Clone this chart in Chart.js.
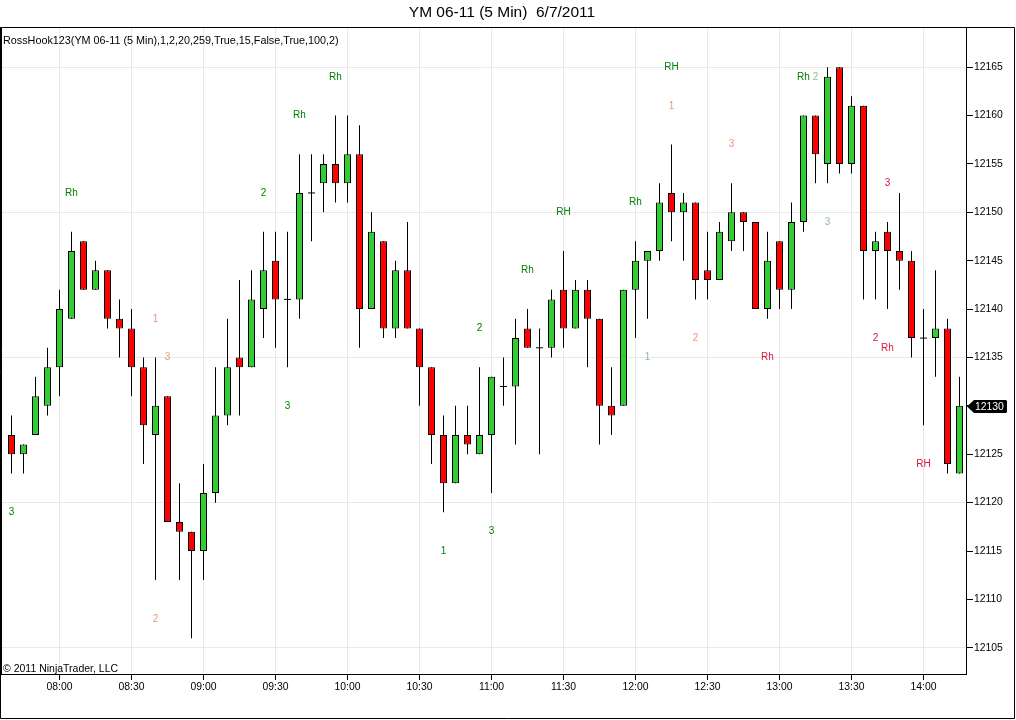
<!DOCTYPE html>
<html>
<head>
<meta charset="utf-8">
<script src="https://cdn.jsdelivr.net/npm/chart.js@4.4.0/dist/chart.umd.min.js"></script>
<style>
html,body{margin:0;padding:0;background:#fff;}
#wrap{position:relative;width:1016px;height:720px;overflow:hidden;font-family:"Liberation Sans",Arial,sans-serif;color:#000;background:#fff;}
#c{position:absolute;left:0;top:0;}
#title{position:absolute;left:0;top:3px;width:1004px;text-align:center;font-size:15.5px;line-height:18px;white-space:pre;}
#ind{position:absolute;left:3px;top:33px;font-size:10.8px;line-height:14px;white-space:pre;}
#copy{position:absolute;left:3px;top:661px;font-size:10.5px;line-height:14px;white-space:pre;}
</style>
</head>
<body>
<div id="wrap">
<canvas id="c" width="1016" height="720"></canvas>
<div id="title">YM 06-11 (5 Min)  6/7/2011</div>
<div id="ind">RossHook123(YM 06-11 (5 Min),1,2,20,259,True,15,False,True,100,2)</div>
<div id="copy">© 2011 NinjaTrader, LLC</div>
</div>
<script>
// ---- data ----
const times = ["07:40","07:45","07:50","07:55",
  "08:00","08:05","08:10","08:15","08:20","08:25","08:30","08:35","08:40","08:45","08:50","08:55",
  "09:00","09:05","09:10","09:15","09:20","09:25","09:30","09:35","09:40","09:45","09:50","09:55",
  "10:00","10:05","10:10","10:15","10:20","10:25","10:30","10:35","10:40","10:45","10:50","10:55",
  "11:00","11:05","11:10","11:15","11:20","11:25","11:30","11:35","11:40","11:45","11:50","11:55",
  "12:00","12:05","12:10","12:15","12:20","12:25","12:30","12:35","12:40","12:45","12:50","12:55",
  "13:00","13:05","13:10","13:15","13:20","13:25","13:30","13:35","13:40","13:45","13:50","13:55",
  "14:00","14:05","14:10","14:15"];
const opens  = [12127,12125,12127,12130,12134,12139,12147,12142,12144,12139,12138,12134,12127,12131,12118,12117,
  12115,12121,12129,12135,12134,12140,12145,12141,12141,12152,12153,12155,12153,12156,12140,12147,
  12138,12144,12138,12134,12127,12122,12127,12125,12127,12132,12132,12138,12136,12136,12142,12138,
  12142,12139,12130,12130,12142,12145,12146,12152,12150,12151,12144,12143,12147,12150,12149,12140,
  12147,12142,12149,12160,12155,12165,12155,12161,12146,12148,12146,12145,12137,12137,12138,12123];
const highs  = [12129,12126,12133,12136,12142,12148,12147,12145,12144,12141,12140,12135,12135,12131,12122,12117,
  12124,12134,12139,12143,12144,12148,12148,12148,12156,12156,12156,12160,12160,12159,12150,12147,
  12145,12149,12138,12134,12129,12130,12130,12134,12133,12135,12139,12140,12138,12142,12146,12143,
  12143,12139,12134,12142,12147,12146,12153,12157,12152,12151,12148,12149,12153,12150,12149,12148,
  12147,12151,12160,12160,12165,12165,12162,12161,12148,12149,12152,12146,12140,12144,12139,12133];
const lows   = [12123,12123,12127,12129,12131,12139,12142,12142,12138,12135,12131,12124,12112,12118,12112,12106,
  12112,12120,12128,12129,12134,12137,12136,12134,12139,12147,12150,12151,12151,12136,12140,12137,
  12137,12138,12130,12124,12119,12122,12125,12125,12121,12130,12126,12136,12125,12135,12136,12138,
  12134,12126,12127,12130,12137,12139,12145,12147,12145,12141,12141,12143,12146,12146,12140,12139,
  12140,12140,12148,12153,12153,12154,12154,12141,12141,12140,12142,12135,12128,12133,12123,12123];
const closes = [12125,12126,12131,12134,12140,12146,12142,12144,12139,12138,12134,12128,12130,12118,12117,12115,
  12121,12129,12134,12134,12141,12144,12141,12141,12152,12152,12155,12153,12156,12140,12148,12138,
  12144,12138,12134,12127,12122,12127,12126,12127,12133,12132,12137,12136,12136,12141,12138,12142,
  12139,12130,12129,12142,12145,12146,12151,12150,12151,12143,12143,12148,12150,12149,12140,12145,
  12142,12149,12160,12156,12164,12155,12161,12146,12147,12146,12145,12137,12137,12138,12124,12130];

const tickLabels = ["08:00","08:30","09:00","09:30","10:00","10:30","11:00","11:30","12:00","12:30","13:00","13:30","14:00"];
const priceTicks = [12105,12110,12115,12120,12125,12130,12135,12140,12145,12150,12155,12160,12165];

// RossHook123 markers: text, bar index, price level, kind
const markText  = ["3","Rh","1","3","2","2","3","Rh","Rh","2","1","3","Rh","RH","Rh","1","1","RH","2","3","Rh","Rh","2","3","3","2","Rh","RH"];
const markBar   = [0,5,12,13,12,21,23,24,27,39,36,40,43,46,52,53,55,55,57,60,63,66,67,68,73,72,73,76];
const markPrice = [12119,12152,12139,12135,12108,12152,12130,12160,12164,12138,12115,12117,12144,12150,12151,12135,12161,12165,12137,12157,12135,12164,12164,12149,12153,12137,12136,12124];
const markKind  = ["up","up","dnLight","dnLight","dnLight","up","up","up","up","up","up","up","up","up","up","upLight","dnLight","up","dnLight","dnLight","dn","up","upLight","upLight","dn","dn","dn","dn"];

// ---- styles ----
const KIND_COLOR = {up:"#008000", upLight:"#8FBC8F", dnLight:"#E9967A", dn:"#DC143C"};
const UP = "#32CD32", DOWN = "#FF0000";
const FONT = "'Liberation Sans', Arial, sans-serif";
const GRID = "#e9e9e9";

// ---- datasets built from data ----
const wickData = times.map((t, i) => ({x: i, y: [lows[i], highs[i]]}));
const bodyIdx = times.map((t, i) => i).filter(i => opens[i] !== closes[i]);
const bodyData = bodyIdx.map(i => ({x: i, y: [opens[i], closes[i]]}));
const bodyColors = bodyIdx.map(i => closes[i] > opens[i] ? UP : DOWN);
const dojiData = times.map((t, i) => i).filter(i => opens[i] === closes[i]).map(i => ({x: i, y: closes[i]}));

const frame = {
  id: 'frame',
  beforeDraw(chart) {
    const c = chart.ctx;
    c.save();
    c.fillStyle = '#fff';
    c.fillRect(0, 0, chart.width, chart.height);
    c.restore();
  },
  afterDatasetsDraw(chart) {
    const c = chart.ctx, xs = chart.scales.x, ys = chart.scales.y;
    c.save();
    c.font = "10px " + FONT;
    c.textAlign = 'center';
    c.textBaseline = 'middle';
    markText.forEach((t, k) => {
      c.fillStyle = KIND_COLOR[markKind[k]];
      c.fillText(t, xs.getPixelForValue(markBar[k]), ys.getPixelForValue(markPrice[k]));
    });
    c.restore();
  },
  afterDraw(chart) {
    const c = chart.ctx, a = chart.chartArea, ys = chart.scales.y;
    c.save();
    c.strokeStyle = '#000';
    c.lineWidth = 1;
    c.beginPath();
    c.moveTo(a.left + 0.5, a.bottom);
    c.lineTo(a.left + 0.5, a.top + 0.5);
    c.lineTo(a.right, a.top + 0.5);
    c.stroke();
    // outer frame
    c.beginPath();
    c.moveTo(a.right, a.top + 0.5);
    c.lineTo(chart.width - 1.5, a.top + 0.5);
    c.lineTo(chart.width - 1.5, chart.height - 1.5);
    c.lineTo(0.5, chart.height - 1.5);
    c.lineTo(0.5, a.top);
    c.stroke();
    // last price marker
    const last = closes[closes.length - 1];
    const y = Math.round(ys.getPixelForValue(last)) + 0.5;
    const x0 = a.right + 1;
    c.fillStyle = '#000';
    c.beginPath();
    c.moveTo(x0, y);
    c.lineTo(x0 + 7, y - 6.5);
    c.lineTo(x0 + 39, y - 6.5);
    c.lineTo(x0 + 40, y - 5.5);
    c.lineTo(x0 + 40, y + 5.5);
    c.lineTo(x0 + 39, y + 6.5);
    c.lineTo(x0 + 7, y + 6.5);
    c.closePath();
    c.fill();
    c.fillStyle = '#fff';
    c.font = "10.4px " + FONT;
    c.textAlign = 'left';
    c.textBaseline = 'middle';
    c.fillText(String(last), x0 + 8, y + 0.5);
    c.restore();
  }
};

Chart.defaults.font.family = FONT;
Chart.defaults.color = '#000';

new Chart(document.getElementById('c'), {
  type: 'bar',
  data: {
    datasets: [
      {type: 'bar', data: wickData, backgroundColor: '#000', borderWidth: 0, barThickness: 1,
       grouped: false, inflateAmount: 0, order: 3},
      {type: 'bar', data: bodyData, backgroundColor: bodyColors, borderColor: '#000', borderWidth: 1,
       borderSkipped: false, barThickness: 7, grouped: false, inflateAmount: 0, order: 2},
      {type: 'scatter', data: dojiData, pointStyle: 'line', pointRadius: 3.5, borderColor: '#000',
       borderWidth: 1, order: 1}
    ]
  },
  plugins: [frame],
  options: {
    responsive: false,
    animation: false,
    devicePixelRatio: 1,
    events: [],
    layout: {autoPadding: false, padding: {left: 1, top: 27, right: 0, bottom: 0}},
    plugins: {legend: {display: false}, tooltip: {enabled: false}, title: {display: false}},
    scales: {
      x: {
        type: 'linear',
        position: 'bottom',
        min: -0.875,
        max: -0.875 + 965 / 12,
        offset: false,
        afterBuildTicks(s) { s.ticks = tickLabels.map(l => ({value: times.indexOf(l)})); },
        afterFit(s) { s.height = 46; s.paddingLeft = 0; s.paddingRight = 0; },
        ticks: {
          autoSkip: false, maxRotation: 0, padding: 1,
          font: {size: 10.4},
          callback: v => times[v]
        },
        grid: {color: GRID, tickColor: '#000', tickLength: 6, offset: false, drawOnChartArea: true},
        border: {color: '#000', width: 1}
      },
      y: {
        type: 'linear',
        position: 'right',
        min: 12150 - (674 - 212.3) / 9.678,
        max: 12150 + (212.3 - 27) / 9.678,
        afterBuildTicks(s) { s.ticks = priceTicks.map(v => ({value: v})); },
        afterFit(s) { s.width = 50; s.paddingTop = 0; s.paddingBottom = 0; },
        ticks: {autoSkip: false, padding: 1, font: {size: 10.4}, callback: v => String(v)},
        grid: {
          color: ctx => (ctx.tick && ctx.tick.value % 15 === 0) ? GRID : 'rgba(0,0,0,0)',
          tickColor: '#000', tickLength: 7
        },
        border: {color: '#000', width: 1}
      }
    }
  }
});
</script>
</body>
</html>
